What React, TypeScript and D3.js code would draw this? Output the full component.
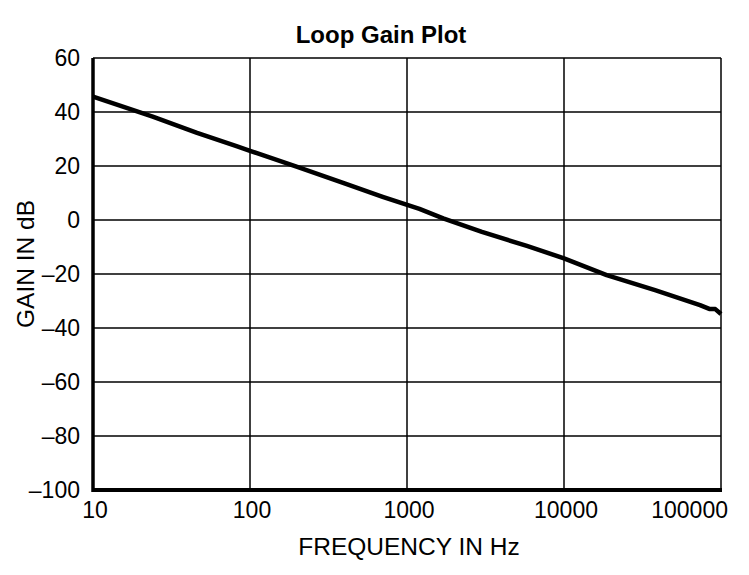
import * as d3 from 'd3'
import React from 'react'

const freqs = [10, 15, 24, 46, 82, 100, 200, 400, 700, 1200, 1700, 3000, 5800, 10000, 18700, 38000, 73500, 85000, 92000, 100000]
const gains = [45.7, 42.3, 38.3, 32.3, 27.4, 25.6, 19.7, 13.6, 8.6, 4.1, 0.6, -4.4, -9.6, -14.2, -20.4, -26, -31.5, -33, -33, -34.8]

const xTicks = [10, 100, 1000, 10000, 100000]
const yTicks = [-100, -80, -60, -40, -20, 0, 20, 40, 60]

const W = 749
const H = 575
const margin = { left: 93, right: 28, top: 58, bottom: 85 }
const font = "'Liberation Sans', Arial, Helvetica, sans-serif"

const App = () => {
  const x = d3.scaleLog().domain([10, 100000]).range([margin.left, W - margin.right])
  const y = d3.scaleLinear().domain([-100, 60]).range([H - margin.bottom, margin.top])
  const pts = freqs.map((f, i) => [f, gains[i]] as [number, number])
  const line = d3
    .line<[number, number]>()
    .x((d) => x(d[0]))
    .y((d) => y(d[1]))

  const [x0, x1] = x.range()
  const [y0, y1] = y.range()

  return (
    <svg width={W} height={H} style={{ position: 'absolute', left: 0, top: 0, background: '#fff' }}>
      <text x={381} y={43} textAnchor="middle" fontFamily={font} fontWeight="bold" fontSize={24}>
        Loop Gain Plot
      </text>
      {yTicks.map((t) => (
        <g key={t}>
          <line x1={x0} x2={x1} y1={y(t)} y2={y(t)} stroke="#000" strokeWidth={1.5} />
          <text
            x={80}
            y={y(t)}
            dy="0.36em"
            textAnchor="end"
            fontFamily={font}
            fontSize={23}
          >
            {t < 0 ? `\u2013${Math.abs(t)}` : t}
          </text>
        </g>
      ))}
      {xTicks.map((t, i) => (
        <g key={t}>
          <line x1={x(t)} x2={x(t)} y1={y0} y2={y1} stroke="#000" strokeWidth={1.5} />
          <text
            x={i === xTicks.length - 1 ? 728 : x(t) + 2}
            y={518}
            textAnchor={i === xTicks.length - 1 ? 'end' : 'middle'}
            fontFamily={font}
            fontSize={23}
          >
            {t}
          </text>
        </g>
      ))}
      <line x1={x0} x2={x0} y1={y0 + 2} y2={y1} stroke="#000" strokeWidth={3.5} />
      <line x1={x0} x2={x1 + 1} y1={y0} y2={y0} stroke="#000" strokeWidth={4} />
      <path d={line(pts) ?? ''} fill="none" stroke="#000" strokeWidth={4.5} strokeLinejoin="round" />
      <text x={409} y={555} textAnchor="middle" fontFamily={font} fontSize={24.5}>
        FREQUENCY IN Hz
      </text>
      <text
        transform={`translate(34 264) rotate(-90)`}
        textAnchor="middle"
        fontFamily={font}
        fontSize={24.5}
      >
        GAIN IN dB
      </text>
    </svg>
  )
}

export default App
